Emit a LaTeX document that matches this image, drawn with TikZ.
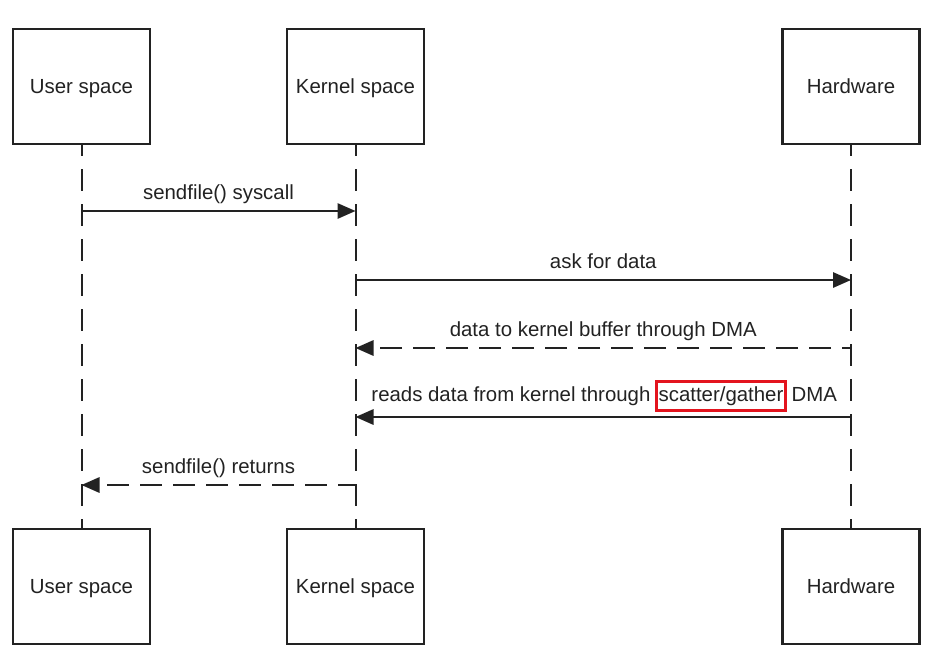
\documentclass[tikz,border=0pt]{standalone}
\usepackage{fontspec}
\setmainfont{Liberation Sans}
\usetikzlibrary{arrows.meta}
\definecolor{ink}{HTML}{222222}
\definecolor{mark}{HTML}{E3141E}
\begin{document}
\begin{tikzpicture}[x=0.75pt,y=-0.75pt,
  every node/.style={text=ink, font=\fontsize{15.3}{18}\selectfont,
    text height=11pt, text depth=3pt},
  actor/.style={draw=ink, line width=2pt, fill=white, minimum width=102.75pt,
    minimum height=86.25pt, inner sep=0pt, text height=14pt},
  lifeline/.style={draw=ink, line width=1.5pt, dash pattern=on 16.5pt off 9.75pt,
    dash phase=8.25pt},
  call/.style={draw=ink, line width=1.5pt, -{Triangle[length=13.5pt,width=11.5pt]}},
  reply/.style={call, dash pattern=on 16.5pt off 8.25pt},
  msglabel/.style={midway, yshift=14.5pt, inner sep=0pt, text height=14pt},
  highlight/.style={draw=mark, line width=1.9pt, inner xsep=1.5pt, inner ysep=0pt,
    minimum height=21.75pt}
]
\useasboundingbox (0,0) rectangle (939,662);

% participants, top and bottom
\node[actor] (ut) at (81.5,86.5)  {User space};
\node[actor] (kt) at (355.5,86.5) {Kernel space};
\node[actor] (ht) at (851,86.5)   {Hardware};
\node[actor] (ub) at (81.5,586.5)  {User space};
\node[actor] (kb) at (355.5,586.5) {Kernel space};
\node[actor] (hb) at (851,586.5)   {Hardware};

% lifelines
\draw[lifeline] (ut.south) -- (ub.north);
\draw[lifeline] (kt.south) -- (kb.north);
\draw[lifeline] (ht.south) -- (hb.north);

% message end points on the lifelines
\coordinate (u1) at (ut.south |- 0,211);
\coordinate (k1) at (kt.south |- 0,211);
\coordinate (k2) at (kt.south |- 0,280);
\coordinate (h2) at (ht.south |- 0,280);
\coordinate (h3) at (ht.south |- 0,348);
\coordinate (k3) at (kt.south |- 0,348);
\coordinate (h4) at (ht.south |- 0,417);
\coordinate (k4) at (kt.south |- 0,417);
\coordinate (k5) at (kt.south |- 0,485);
\coordinate (u5) at (ut.south |- 0,485);

% messages
\draw[call] (u1) -- (k1) node[msglabel] {sendfile() syscall};
\draw[call] (k2) -- (h2) node[msglabel] {ask for data};
\draw[reply, dash phase=9.75pt] (h3) -- (k3)
  node[msglabel] {data to kernel buffer through DMA};
\draw[call] (h4) -- (k4);
\draw[reply, dash phase=3pt] (k5) -- (u5) node[msglabel] {sendfile() returns};

% label of the scatter/gather message, with its marked term
\node[highlight] (sg) at (721,396) {scatter/gather};
\node[anchor=east, inner sep=0pt, xshift=-3.5pt] (sgl) at (sg.west) {reads data from kernel through};
\node[anchor=west, inner sep=0pt, xshift=3.5pt] (sgr) at (sg.east) {DMA};
\end{tikzpicture}
\end{document}
